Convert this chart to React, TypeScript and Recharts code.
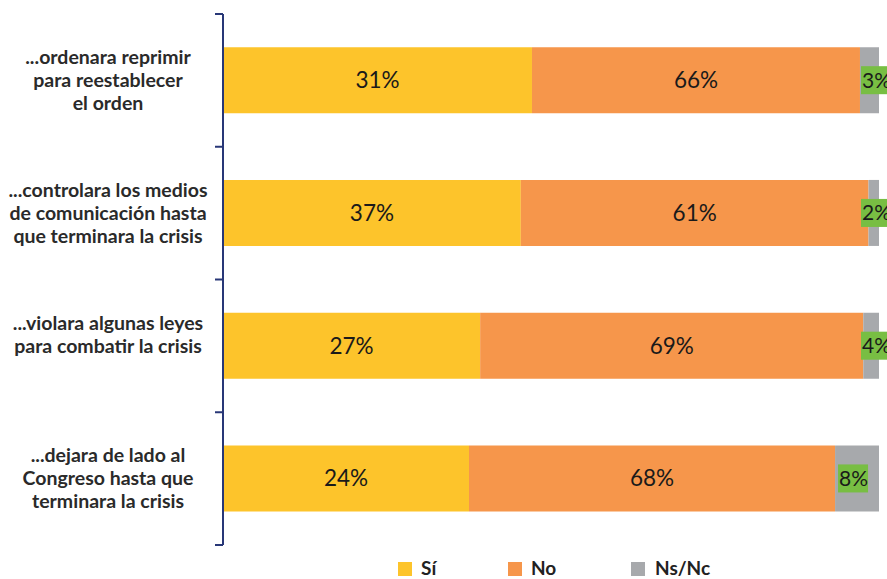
import React from 'react'
import { BarChart, Bar, XAxis, YAxis, LabelList } from 'recharts'

const categories = [
  '...ordenara reprimir\npara reestablecer\nel orden',
  '...controlara los medios\nde comunicación hasta\nque terminara la crisis',
  '...violara algunas leyes\npara combatir la crisis\n',
  '...dejara de lado al\nCongreso hasta que\nterminara la crisis',
]
// bar lengths as drawn in the picture (share of the full bar)
const siValues = [47.1, 45.4, 39.2, 37.5]
const noValues = [50.0, 53.0, 58.4, 55.8]
const nsValues = [2.9, 1.6, 2.4, 6.7]
// printed labels
const siLabels = ['31%', '37%', '27%', '24%']
const noLabels = ['66%', '61%', '69%', '68%']
const nsLabels = ['3%', '2%', '4%', '8%']

const series = [
  { key: 'si', name: 'Sí', color: '#FDC42B' },
  { key: 'no', name: 'No', color: '#F6964B' },
  { key: 'ns', name: 'Ns/Nc', color: '#A7A9AC' },
]

const data = categories.map((c, i) => ({
  name: c,
  si: siValues[i],
  no: noValues[i],
  ns: nsValues[i],
  siLabel: siLabels[i],
  noLabel: noLabels[i],
  nsLabel: nsLabels[i],
}))

const W = 887
const H = 579
const M = { top: 14, right: 8, left: 0, bottom: 34 }
const AXIS_W = 223
const BAND = (H - M.top - M.bottom) / categories.length
const AXIS = '#283777'
const FONT = 'Lato, "Open Sans", sans-serif'

const CategoryTick = (props: any) => {
  const { y, payload, index } = props
  const lines = String(payload.value).split('\n')
  const lh = 23
  const start = y - ((lines.length - 1) * lh) / 2
  return (
    <g>
      <text x={108} y={start} textAnchor="middle" fontFamily={FONT} fontWeight={700} fontSize={19.5} fill="#2a2a2a">
        {lines.map((l, i) => (
          <tspan key={i} x={108} y={start + i * lh} dy="0.35em">
            {l}
          </tspan>
        ))}
      </text>
      <line x1={AXIS_W - 8} x2={AXIS_W} y1={y - BAND / 2} y2={y - BAND / 2} stroke={AXIS} strokeWidth={2} />
      {index === categories.length - 1 && (
        <line x1={AXIS_W - 8} x2={AXIS_W} y1={y + BAND / 2} y2={y + BAND / 2} stroke={AXIS} strokeWidth={2} />
      )}
    </g>
  )
}

const centerLabel = (props: any) => {
  const { x, y, width, height, value } = props
  return (
    <text x={x + width / 2} y={y + height / 2} dy="0.35em" textAnchor="middle" fontFamily={FONT} fontSize={22.5} fill="#1a1a1a">
      {value}
    </text>
  )
}

const boxLabel = (props: any) => {
  const { x, y, height, value } = props
  const bx = Math.min(x + 3, 861)
  const bw = 30
  const bh = 28
  return (
    <g>
      <rect x={bx} y={y + height / 2 - bh / 2} width={bw} height={bh} fill="#78BE43" />
      <text x={bx + 1} y={y + height / 2} dy="0.35em" textAnchor="start" fontFamily={FONT} fontSize={21} fill="#1a1a1a">
        {value}
      </text>
    </g>
  )
}

const legendPos = [
  { sq: 398, tx: 421 },
  { sq: 508, tx: 531 },
  { sq: 631, tx: 655 },
]

export default function App() {
  return (
    <div style={{ position: 'absolute', left: 0, top: 0, width: W, height: H, overflow: 'hidden', background: '#fff' }}>
      <BarChart width={W} height={H} data={data} layout="vertical" margin={M} barCategoryGap="25%">
        <XAxis type="number" domain={[0, 100]} hide />
        <YAxis
          type="category"
          dataKey="name"
          width={AXIS_W}
          axisLine={{ stroke: AXIS, strokeWidth: 2 }}
          tickLine={false}
          tick={<CategoryTick />}
          interval={0}
        />
        <Bar dataKey="si" stackId="a" fill={series[0].color} isAnimationActive={false}>
          <LabelList dataKey="siLabel" content={centerLabel} />
        </Bar>
        <Bar dataKey="no" stackId="a" fill={series[1].color} isAnimationActive={false}>
          <LabelList dataKey="noLabel" content={centerLabel} />
        </Bar>
        <Bar dataKey="ns" stackId="a" fill={series[2].color} isAnimationActive={false}>
          <LabelList dataKey="nsLabel" content={boxLabel} />
        </Bar>
      </BarChart>
      {series.map((s, i) => (
        <React.Fragment key={s.key}>
          <div style={{ position: 'absolute', left: legendPos[i].sq, top: 562, width: 14, height: 14, background: s.color }} />
          <div
            style={{
              position: 'absolute',
              left: legendPos[i].tx,
              top: 557,
              fontFamily: FONT,
              fontWeight: 700,
              fontSize: 19,
              color: '#222',
              lineHeight: '22px',
            }}
          >
            {s.name}
          </div>
        </React.Fragment>
      ))}
    </div>
  )
}
